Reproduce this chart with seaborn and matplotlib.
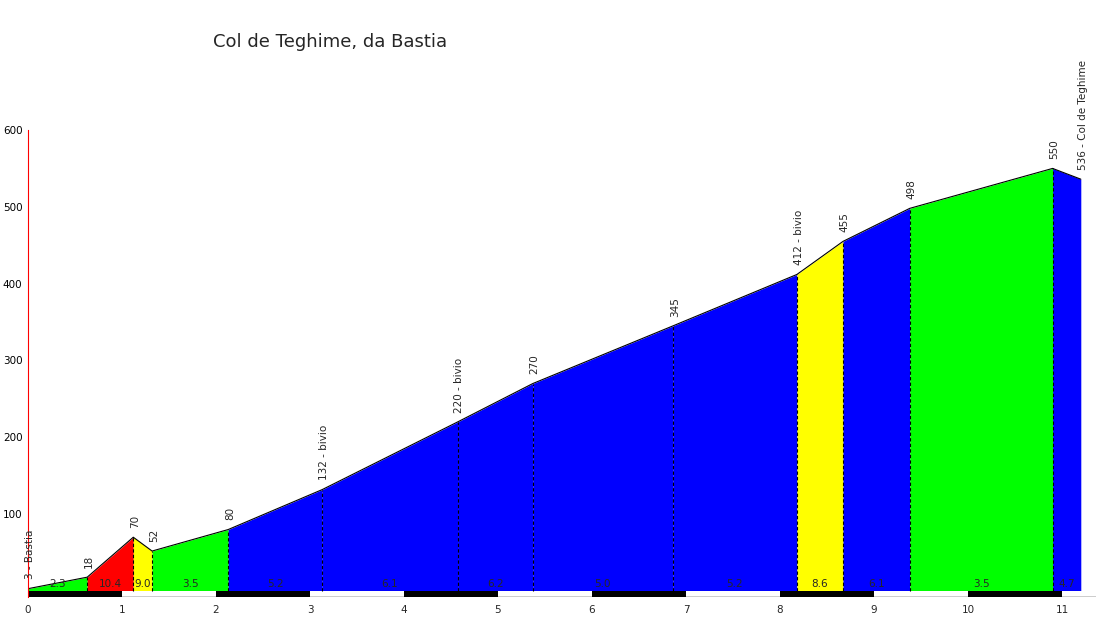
import matplotlib
matplotlib.use("Agg")
import matplotlib.pyplot as plt
import seaborn as sns
import pandas as pd
import numpy as np

km = [0, 0.63, 1.12, 1.32, 2.13, 3.13, 4.57, 5.37, 6.86, 8.18, 8.67, 9.38, 10.9, 11.2]
elev = [3, 18, 70, 52, 80, 132, 220, 270, 345, 412, 455, 498, 550, 536]
point_labels = ["3 - Bastia", "18", "70", "52", "80", "132 - bivio", "220 - bivio", "270",
                "345", "412 - bivio", "455", "498", "550", "536 - Col de Teghime"]
grades = ["2.3", "10.4", "9.0", "3.5", "5.2", "6.1", "6.2", "5.0", "5.2", "8.6", "6.1", "3.5", "4.7"]
seg_colors = ["#00ff00", "#ff0000", "#ffff00", "#00ff00", "#0000ff", "#0000ff", "#0000ff",
              "#0000ff", "#0000ff", "#ffff00", "#0000ff", "#00ff00", "#0000ff"]
title = "Col de Teghime, da Bastia"

sns.set_style("white")
plt.rcParams['font.family'] = ['DejaVu Sans']
W, H = 1096, 619
fig = plt.figure(figsize=(W/100, H/100), dpi=100)
ax = fig.add_axes([28/W, (H-597)/H, (1096-28)/W, (597-130)/H])
ymin = -6/0.768
ax.set_xlim(0, (1096-28)/94)
ax.set_ylim(ymin, 600)

df = pd.DataFrame({"km": km, "elev": elev})
for i in range(len(km)-1):
    ax.fill_between([km[i], km[i+1]], [0, 0], [elev[i], elev[i+1]], color=seg_colors[i], lw=0)
    ax.text((km[i]+km[i+1])/2, 2, grades[i], ha="center", va="bottom", fontsize=7.5)
sns.lineplot(data=df, x="km", y="elev", color="black", lw=0.8, ax=ax)
for i in range(1, len(km)-1):
    ax.plot([km[i], km[i]], [0, elev[i]], color="black", ls=(0, (3, 2)), lw=0.8)
for i in range(len(km)):
    ax.text(km[i]+0.02, elev[i]+12, point_labels[i], rotation=90, ha="center", va="bottom",
            fontsize=7.5, clip_on=False)

# km bar
for k in range(12):
    ax.fill_between([k, k+1], [ymin, ymin], [0, 0], color="black" if k % 2 == 0 else "white", lw=0)
ax.plot([k*0 for _ in range(1)], [0], alpha=0)
ax.axhline(ymin, color="black", lw=1)

for s in ["top", "right", "bottom"]:
    ax.spines[s].set_visible(False)
ax.spines["left"].set_color("red")
ax.spines["left"].set_bounds(ymin, 600)
ax.set_xticks(range(12))
ax.set_yticks([100, 200, 300, 400, 500, 600])
ax.tick_params(axis="y", colors="red", length=3, labelsize=7.5, labelcolor="black", pad=1)
ax.tick_params(axis="x", length=0, labelsize=7.5, pad=6)
ax.set_xlabel("")
ax.set_ylabel("")
fig.text(330/W, 1-42/H, title, ha="center", va="center", fontsize=13)
fig.savefig("out.png", dpi=100)
